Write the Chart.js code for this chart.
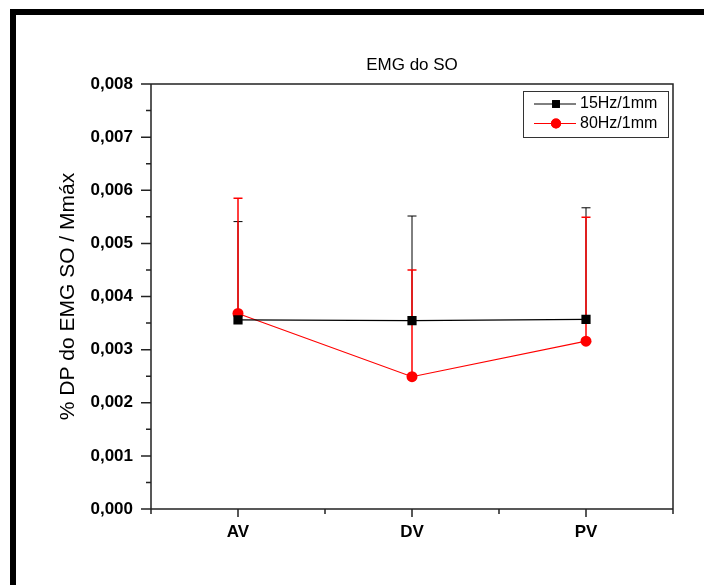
<!DOCTYPE html>
<html>
<head>
<meta charset="utf-8">
<title>EMG do SO</title>
<script src="https://cdn.jsdelivr.net/npm/chart.js@4.4.0/dist/chart.umd.min.js"></script>
<style>
  html, body { margin: 0; padding: 0; background: #fff; }
  #wrap { width: 704px; height: 585px; }
</style>
</head>
<body>
<div id="wrap"><canvas id="emg-chart" width="704" height="585"></canvas></div>
<script>
// Dados do gráfico
const categorias = ['AV', 'DV', 'PV'];
const nomeSerie15 = '15Hz/1mm';
const nomeSerie80 = '80Hz/1mm';
const media15Hz = [0.00356, 0.003545, 0.00357];
const dp15Hz = [0.00185, 0.00197, 0.00210];
const media80Hz = [0.00368, 0.00249, 0.00316];
const dp80Hz = [0.00217, 0.00201, 0.00233];
const yMin = 0;
const yMax = 0.008;
const yPasso = 0.001;

const FONTE = '"Liberation Sans", Arial, sans-serif';

/**
 * Moldura preta (esquerda e topo) e fundo branco
 */
const moldura = {
    id: 'moldura',
    beforeDraw(chart) {
        const ctx = chart.ctx;
        ctx.save();
        ctx.fillStyle = '#fff';
        ctx.fillRect(0, 0, chart.width, chart.height);
        ctx.fillStyle = '#000';
        ctx.fillRect(10, 9, 6, chart.height - 9);
        ctx.fillRect(10, 9, chart.width - 10, 6);
        ctx.restore();
    }
};

/**
 * Eixos, caixa do gráfico e marcas (maiores e menores)
 */
const eixos = {
    id: 'eixos',
    afterDraw(chart) {
        const ctx = chart.ctx;
        const { left, right, top, bottom } = chart.chartArea;
        const x = chart.scales.x;
        const y = chart.scales.y;
        ctx.save();
        ctx.strokeStyle = '#222';
        ctx.lineWidth = 1.5;
        ctx.beginPath();
        // caixa
        ctx.moveTo(left, bottom + 4);
        ctx.lineTo(left, top);
        ctx.lineTo(right, top);
        ctx.lineTo(right, bottom + 4);
        ctx.moveTo(left, bottom);
        ctx.lineTo(right, bottom);
        // marcas do eixo y
        for (let v = yMin; v <= yMax + 1e-9; v += yPasso / 2) {
            const py = y.getPixelForValue(v);
            const maior = Math.abs(Math.round(v / yPasso) * yPasso - v) < 1e-9;
            ctx.moveTo(left, py);
            ctx.lineTo(left - (maior ? 10 : 5), py);
        }
        // marcas do eixo x
        for (let i = -0.5; i <= categorias.length - 0.5; i += 0.5) {
            const px = x.getPixelForValue(i);
            const maior = Number.isInteger(i);
            ctx.moveTo(px, bottom);
            ctx.lineTo(px, bottom + (maior ? 8 : 5));
        }
        ctx.stroke();
        ctx.restore();
    }
};

/**
 * Barras de erro (só o lado superior)
 */
const barrasErro = {
    id: 'barrasErro',
    beforeDatasetsDraw(chart) {
        const ctx = chart.ctx;
        const y = chart.scales.y;
        ctx.save();
        chart.data.datasets.forEach(function(ds, di) {
            const meta = chart.getDatasetMeta(di);
            ctx.strokeStyle = ds.borderColor;
            ctx.lineWidth = ds.erroLargura;
            ds.dp.forEach(function(sd, i) {
                const pt = meta.data[i];
                const topo = y.getPixelForValue(ds.data[i] + sd);
                ctx.beginPath();
                ctx.moveTo(pt.x, pt.y);
                ctx.lineTo(pt.x, topo);
                ctx.moveTo(pt.x - 4.5, topo);
                ctx.lineTo(pt.x + 4.5, topo);
                ctx.stroke();
            });
        });
        ctx.restore();
    }
};

/**
 * Legenda dentro da área do gráfico
 */
const legenda = {
    id: 'legenda',
    afterDraw(chart) {
        const ctx = chart.ctx;
        const bx = 523, by = 91, bw = 145, bh = 46;
        ctx.save();
        ctx.strokeStyle = '#333';
        ctx.lineWidth = 1;
        ctx.strokeRect(bx + 0.5, by + 0.5, bw, bh);
        ctx.font = '16px ' + FONTE;
        ctx.textBaseline = 'middle';
        chart.data.datasets.forEach(function(ds, i) {
            const ly = 104 + i * 19.5;
            ctx.strokeStyle = ds.borderColor;
            ctx.lineWidth = 1;
            ctx.beginPath();
            ctx.moveTo(534, ly);
            ctx.lineTo(576, ly);
            ctx.stroke();
            ctx.fillStyle = ds.backgroundColor;
            Chart.helpers.drawPoint(ctx, {
                pointStyle: ds.pointStyle,
                radius: ds.legendaRaio,
                borderWidth: 0
            }, 556, ly);
            ctx.fill();
            ctx.fillStyle = '#000';
            ctx.fillText(ds.label, 580, ly);
        });
        ctx.restore();
    }
};

const ctx = document.getElementById('emg-chart').getContext('2d');

new Chart(ctx, {
    type: 'line',
    data: {
        labels: categorias,
        datasets: [{
            label: nomeSerie15,
            data: media15Hz,
            dp: dp15Hz,
            borderColor: '#000',
            backgroundColor: '#000',
            borderWidth: 1.3,
            erroLargura: 1,
            pointStyle: 'rect',
            pointRadius: 6.5,
            legendaRaio: 5.5,
            pointBorderWidth: 0,
            tension: 0
        }, {
            label: nomeSerie80,
            data: media80Hz,
            dp: dp80Hz,
            borderColor: '#ff0000',
            backgroundColor: '#ff0000',
            borderWidth: 1.2,
            erroLargura: 1.5,
            pointStyle: 'circle',
            pointRadius: 5.5,
            legendaRaio: 5,
            pointBorderWidth: 0,
            tension: 0
        }]
    },
    options: {
        responsive: false,
        animation: false,
        devicePixelRatio: 1,
        layout: {
            padding: { left: 0, top: 0, right: 31, bottom: 0 }
        },
        scales: {
            x: {
                type: 'category',
                offset: true,
                grid: { display: false, drawTicks: false },
                border: { display: false },
                ticks: {
                    color: '#000',
                    padding: 13,
                    font: { family: FONTE, size: 17, weight: 'bold' }
                },
                afterFit: function(scale) { scale.height = 76; }
            },
            y: {
                min: yMin,
                max: yMax,
                grid: { display: false, drawTicks: false },
                border: { display: false },
                ticks: {
                    stepSize: yPasso,
                    color: '#000',
                    padding: 18,
                    font: { family: FONTE, size: 17, weight: 'bold' },
                    callback: function(v) { return v.toFixed(3).replace('.', ','); }
                },
                title: {
                    display: true,
                    text: '% DP do EMG SO / Mmáx',
                    color: '#000',
                    font: { family: FONTE, size: 21 },
                    padding: { top: 55.4, bottom: 0 }
                },
                afterFit: function(scale) { scale.width = 151; }
            }
        },
        plugins: {
            legend: { display: false },
            tooltip: { enabled: false },
            title: {
                display: true,
                fullSize: false,
                text: 'EMG do SO',
                color: '#000',
                font: { family: FONTE, size: 17, weight: 'normal' },
                padding: { top: 55, bottom: 8.6 }
            }
        }
    },
    plugins: [moldura, barrasErro, eixos, legenda]
});
</script>
</body>
</html>
